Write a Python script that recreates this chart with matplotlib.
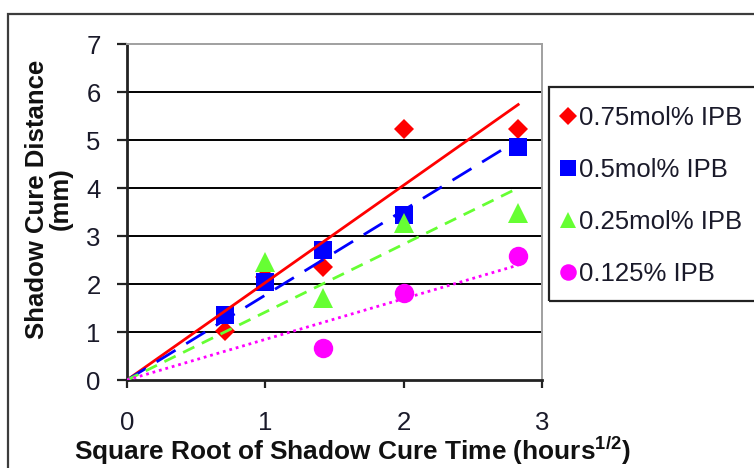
import numpy as np
import matplotlib
matplotlib.use("Agg")
import matplotlib.pyplot as plt
from matplotlib.patches import Rectangle
from matplotlib.lines import Line2D

plt.rcParams['font.family'] = ['Liberation Sans', 'DejaVu Sans']
plt.rcParams['mathtext.fontset'] = 'custom'
plt.rcParams['mathtext.rm'] = 'Liberation Sans'
plt.rcParams['mathtext.bf'] = 'Liberation Sans:bold'

# ---- data ----
sqrt_time = [0.707, 1.0, 1.414, 2.0, 2.828]
ipb_075 = [1.02, 2.15, 2.35, 5.23, 5.23]
ipb_050 = [1.35, 2.05, 2.71, 3.43, 4.85]
ipb_025 = [np.nan, 2.46, 1.70, 3.27, 3.47]
ipb_0125 = [np.nan, np.nan, 0.66, 1.81, 2.58]
series_labels = ["0.75mol% IPB", "0.5mol% IPB", "0.25mol% IPB", "0.125% IPB"]
x_ticks = [0, 1, 2, 3]
y_ticks = [0, 1, 2, 3, 4, 5, 6, 7]

W, H = 754, 468
fig = plt.figure(figsize=(W / 100, H / 100), dpi=100)

def fx(px):
    return px / W

def fy(py):
    return 1 - py / H

# outer chart border (extends past the image)
fig.patches.append(Rectangle((fx(8), fy(500)), fx(800), fy(14) - fy(500),
                             transform=fig.transFigure, fill=False,
                             edgecolor='#3c3c3c', linewidth=1.6, clip_on=False))

ax = fig.add_axes([fx(127), fy(380), fx(542) - fx(127), fy(44) - fy(380)])

series = [ipb_075, ipb_050, ipb_025, ipb_0125]
colors = ['#FF0000', '#0000FF', '#66FF33', '#FF00FF']
markers = ['D', 's', '^', 'o']
msizes = [10.5, 13, 14, 14]
linestyles = ['-', (0, (8, 4.5)), (0, (4.5, 3)), (0, (1.0, 1.4))]

x = np.array(sqrt_time)
handles = []
for ys, c, m, ms, ls, lab in zip(series, colors, markers, msizes, linestyles, series_labels):
    y = np.array(ys)
    ok = ~np.isnan(y)
    ax.plot(x[ok], y[ok], linestyle='none', marker=m, color=c,
            markersize=ms, markeredgewidth=0, zorder=3)
    slope = np.sum(x[ok] * y[ok]) / np.sum(x[ok] ** 2)
    xl = np.array([0, x.max()])
    ax.plot(xl, slope * xl, color=c, linestyle=ls, linewidth=2.0, zorder=4,
            dash_capstyle='butt')
    handles.append(Line2D([], [], linestyle='none', marker=m, color=c,
                          markersize=ms * 0.85, markeredgewidth=0, label=lab))

ax.set_xlim(0, 3)
ax.set_ylim(0, 7)
ax.set_xticks(x_ticks)
ax.set_yticks(y_ticks)
for yv in y_ticks[1:-1]:
    ax.axhline(yv, color='black', linewidth=1.4, zorder=1)

for s in ['top', 'right']:
    ax.spines[s].set_color('#a0a0a0')
    ax.spines[s].set_linewidth(1.4)
for s in ['left', 'bottom']:
    ax.spines[s].set_color('#222222')
    ax.spines[s].set_linewidth(2.0)

ax.tick_params(axis='y', direction='out', length=7, width=1.6, pad=12,
               labelsize=18.5, labelcolor='#1a1a2a', color='#222222')
ax.tick_params(axis='x', direction='out', length=6, width=1.6, pad=16,
               labelsize=18.5, labelcolor='#1a1a2a', color='#222222')

# axis titles
fig.text(fx(49), fy(199), "Shadow Cure Distance\n(mm)", rotation=90,
         ha='center', va='center', fontsize=18.5, fontweight='bold',
         linespacing=1.0, color='#111111', multialignment='center')
fig.text(fx(352), fy(460), r"Square Root of Shadow Cure Time (hours$^{\mathbf{1/2}}$)",
         ha='center', va='baseline', fontsize=18.9, fontweight='bold',
         color='#111111')

# legend frame (extends past the image)
fig.patches.append(Rectangle((fx(549), fy(301)), fx(800) - fx(549), fy(87) - fy(301),
                             transform=fig.transFigure, fill=False,
                             edgecolor='#222222', linewidth=1.6, clip_on=False))
fig.legend(handles=handles, loc='upper left', bbox_to_anchor=(fx(560), fy(106)),
           frameon=False, fontsize=18.5, handlelength=0.6, handletextpad=0.15,
           labelspacing=1.09, borderpad=0, borderaxespad=0, labelcolor='#1a1a2a')

fig.savefig("out.png", dpi=100)
